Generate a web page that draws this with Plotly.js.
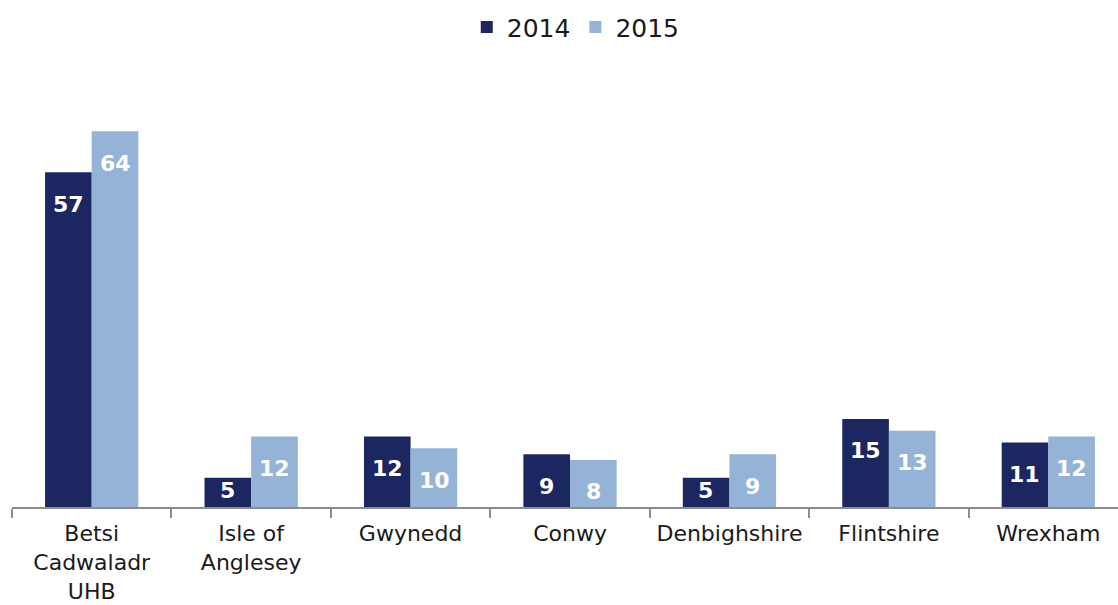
<!DOCTYPE html>
<html>
<head>
<meta charset="utf-8">
<script src="https://cdn.plot.ly/plotly-3.0.1.min.js"></script>
<style>html,body{margin:0;padding:0;background:#fff;}#chart{width:1118px;height:605px;}</style>
</head>
<body>
<div id="chart"></div>
<script>
const categories = ["Betsi<br>Cadwaladr<br>UHB", "Isle of<br>Anglesey", "Gwynedd", "Conwy", "Denbighshire", "Flintshire", "Wrexham"];
const values2014 = [57, 5, 12, 9, 5, 15, 11];
const values2015 = [64, 12, 10, 8, 9, 13, 12];
const seriesNames = ["2014", "2015"];

const colors = ["#1c2660", "#95b3d7"];
const FONT = "DejaVu Sans, Verdana, sans-serif";
const marginT = 96, marginB = 98, H = 605;
const yMax = 70;
const ppu = (H - marginT - marginB) / yMax;

const traces = [values2014, values2015].map((vals, i) => ({
  type: "bar",
  name: seriesNames[i],
  x: categories,
  y: vals,
  marker: {color: colors[i], line: {width: 0}},
  hoverinfo: "none"
}));

const annotations = [];
[values2014, values2015].forEach((vals, i) => {
  vals.forEach((v, j) => {
    annotations.push({
      x: categories[j], y: v, xref: "x", yref: "y",
      text: "<b>" + v + "</b>", showarrow: false,
      xanchor: "center", yanchor: "middle",
      xshift: (i === 0 ? -23.5 : 23.5),
      yshift: -Math.min(32, v * ppu - 16),
      font: {family: FONT, size: 22, color: "#ffffff"}
    });
  });
});

const layout = {
  width: 1118, height: 605,
  margin: {l: 12, r: 0, t: marginT, b: marginB, pad: 0, autoexpand: false},
  paper_bgcolor: "#ffffff", plot_bgcolor: "#ffffff",
  barmode: "group", bargap: 0.415, bargroupgap: 0,
  showlegend: true,
  legend: {orientation: "h", x: 0.515, xanchor: "center", xref: "container",
    y: 0.955, yanchor: "middle", yref: "container",
    font: {family: FONT, size: 25, color: "#1a1a1a"}, itemwidth: 30, traceorder: "normal", tracegroupgap: 0},
  xaxis: {
    type: "category", range: [-0.5, 6.437],
    showline: true, linecolor: "#8c8c8c", linewidth: 2,
    ticks: "outside", tickson: "boundaries", ticklen: 9, tickcolor: "#8c8c8c", tickwidth: 2,
    ticklabelstandoff: 6, tickangle: 0,
    tickfont: {family: FONT, size: 22, color: "#1a1a1a"},
    showgrid: false, zeroline: false
  },
  yaxis: {range: [0, yMax], visible: false, showgrid: false, zeroline: false},
  annotations: annotations,
  font: {family: FONT}
};

Plotly.newPlot("chart", traces, layout, {displayModeBar: false, staticPlot: true});
</script>
</body>
</html>
